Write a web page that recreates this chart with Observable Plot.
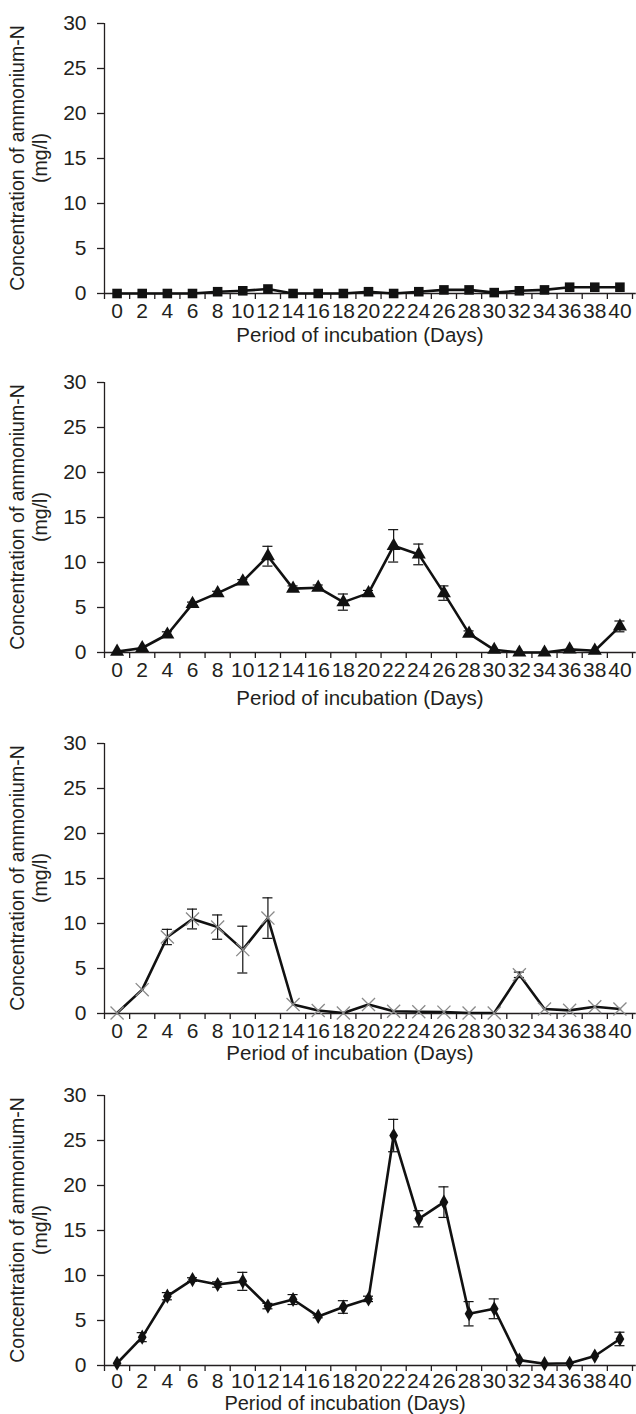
<!DOCTYPE html>
<html><head><meta charset="utf-8">
<script src="https://cdn.jsdelivr.net/npm/d3@7"></script>
<script src="https://cdn.jsdelivr.net/npm/@observablehq/plot@0.6"></script>
<style>
body{margin:0;background:#fff;}
#root{position:relative;width:636px;height:1414px;overflow:hidden;font-family:"Liberation Sans",Arial,sans-serif;color:#231f20;background:#fff;}
.panel{position:absolute;left:0;}
.xt{position:absolute;font-size:20.5px;line-height:1;transform:translate(-50%,-50%);white-space:nowrap;}
.yt{position:absolute;font-size:19.5px;transform:translate(-50%,-50%) rotate(-90deg);white-space:nowrap;text-align:center;line-height:23px;}
</style></head>
<body><div id="root"></div>
<script>
// ---- data ----
const days = [0,2,4,6,8,10,12,14,16,18,20,22,24,26,28,30,32,34,36,38,40];
const yTicks = [0,5,10,15,20,25,30];
const xTitle = "Period of incubation (Days)";
const yTitle1 = "Concentration of ammonium-N";
const yTitle2 = "(mg/l)";

const vals1 = [0,0,0,0,0.2,0.3,0.5,0,0,0,0.2,0,0.2,0.4,0.4,0.1,0.3,0.4,0.7,0.7,0.7];
const err1  = [0,0,0,0,0,0,0,0,0,0,0,0,0,0,0,0,0,0,0,0,0];

const vals2 = [0.1,0.5,2.0,5.4,6.6,7.9,10.7,7.1,7.2,5.6,6.6,11.85,10.9,6.6,2.1,0.3,0,0,0.35,0.2,2.9];
const err2  = [0,0,0.3,0.2,0.2,0.2,1.1,0.3,0.3,0.9,0.3,1.8,1.15,0.8,0.3,0,0,0,0,0,0.6];

const vals3 = [0.05,2.65,8.5,10.5,9.6,7.1,10.6,1.0,0.33,0.05,1.0,0.25,0.2,0.15,0.05,0.05,4.3,0.5,0.35,0.75,0.5];
const err3  = [0,0,0.85,1.1,1.35,2.6,2.25,0,0,0,0,0,0,0,0,0,0.3,0,0,0,0];

const vals4 = [0.25,3.15,7.7,9.55,9.0,9.35,6.6,7.33,5.45,6.5,7.4,25.55,16.3,18.15,5.75,6.3,0.6,0.2,0.25,1.05,2.95];
const err4  = [0,0.5,0.4,0.2,0.3,1.0,0.3,0.55,0.15,0.7,0.3,1.8,0.9,1.7,1.35,1.1,0,0,0,0,0.75];

const panels = [
  {vals: vals1, errs: err1, symbol: "square",   r: 5.4, fill: "#111", stroke: "none", sw: 0, top: 23,   xtOff: 42, xtX: 360, pad: 10, xtSize: 20.5},
  {vals: vals2, errs: err2, symbol: "triangle", r: 5.2, fill: "#111", stroke: "none", sw: 0, top: 382,  xtOff: 46, xtX: 360, pad: 10, xtSize: 20.5},
  {vals: vals3, errs: err3, symbol: "times",    r: 6,   fill: "none", stroke: "#8a8a8a", sw: 1.3, top: 743, xtOff: 40, xtX: 350, pad: 10, xtSize: 20.5},
  {vals: vals4, errs: err4, symbol: "diamond",  r: 4.6, fill: "#111", stroke: "none", sw: 0, top: 1095, xtOff: 38, xtX: 345, pad: 8, xtSize: 20}
];

const ink = "#231f20";
const root = document.getElementById("root");
const MT = 10, PH = 270;

function makePanel(p) {
  const data = days.map((d, i) => ({day: d, v: p.vals[i], e: p.errs[i]}));
  const withErr = data.filter(d => d.e > 0);
  const bounds = days.map(d => d - 1).concat([days[days.length - 1] + 1]);
  return Plot.plot({
    width: 636, height: MT + PH + 30,
    marginLeft: 104, marginRight: 4, marginTop: MT, marginBottom: 30,
    x: {domain: [-1, 41]},
    y: {domain: [0, 30]},
    style: {fontFamily: '"Liberation Sans", Arial, sans-serif', fontSize: "21px", color: ink, background: "transparent", overflow: "visible"},
    marks: [
      Plot.axisY({ticks: yTicks, tickSize: 7, tickPadding: 11, label: null, fontSize: 21, strokeWidth: 1.3}),
      Plot.axisX({ticks: days, tickSize: 0, tickPadding: p.pad, label: null, fontSize: 21, tickFormat: d => String(d)}),
      Plot.axisX({ticks: bounds, tickSize: 6, label: null, tickFormat: () => "", strokeWidth: 1.3}),
      Plot.ruleX([-1], {y1: 0, y2: 30, stroke: ink, strokeWidth: 1.3}),
      Plot.ruleY([0], {x1: -1, x2: 41.3, stroke: ink, strokeWidth: 1.3}),
      Plot.ruleX(withErr, {x: "day", y1: d => d.v - d.e, y2: d => d.v + d.e, stroke: "#111", strokeWidth: 1.2}),
      Plot.ruleY(withErr, {y: d => d.v + d.e, x1: d => d.day - 0.4, x2: d => d.day + 0.4, stroke: "#111", strokeWidth: 1.2}),
      Plot.ruleY(withErr, {y: d => d.v - d.e, x1: d => d.day - 0.4, x2: d => d.day + 0.4, stroke: "#111", strokeWidth: 1.2}),
      Plot.line(data, {x: "day", y: "v", stroke: "#111", strokeWidth: 2.6}),
      Plot.dot(data, {x: "day", y: "v", symbol: p.symbol, r: p.r, fill: p.fill, stroke: p.stroke, strokeWidth: p.sw})
    ]
  });
}

panels.forEach(p => {
  const wrap = document.createElement("div");
  wrap.className = "panel";
  wrap.style.top = (p.top - MT) + "px";
  wrap.appendChild(makePanel(p));
  root.appendChild(wrap);

  const xt = document.createElement("div");
  xt.className = "xt";
  xt.textContent = xTitle;
  xt.style.left = p.xtX + "px";
  xt.style.top = (p.top + PH + p.xtOff) + "px";
  xt.style.fontSize = p.xtSize + "px";
  root.appendChild(xt);

  const yt = document.createElement("div");
  yt.className = "yt";
  yt.innerHTML = yTitle1 + "<br>" + yTitle2;
  yt.style.left = "28.5px";
  yt.style.top = (p.top + PH / 2) + "px";
  root.appendChild(yt);
});
</script>
</body></html>
